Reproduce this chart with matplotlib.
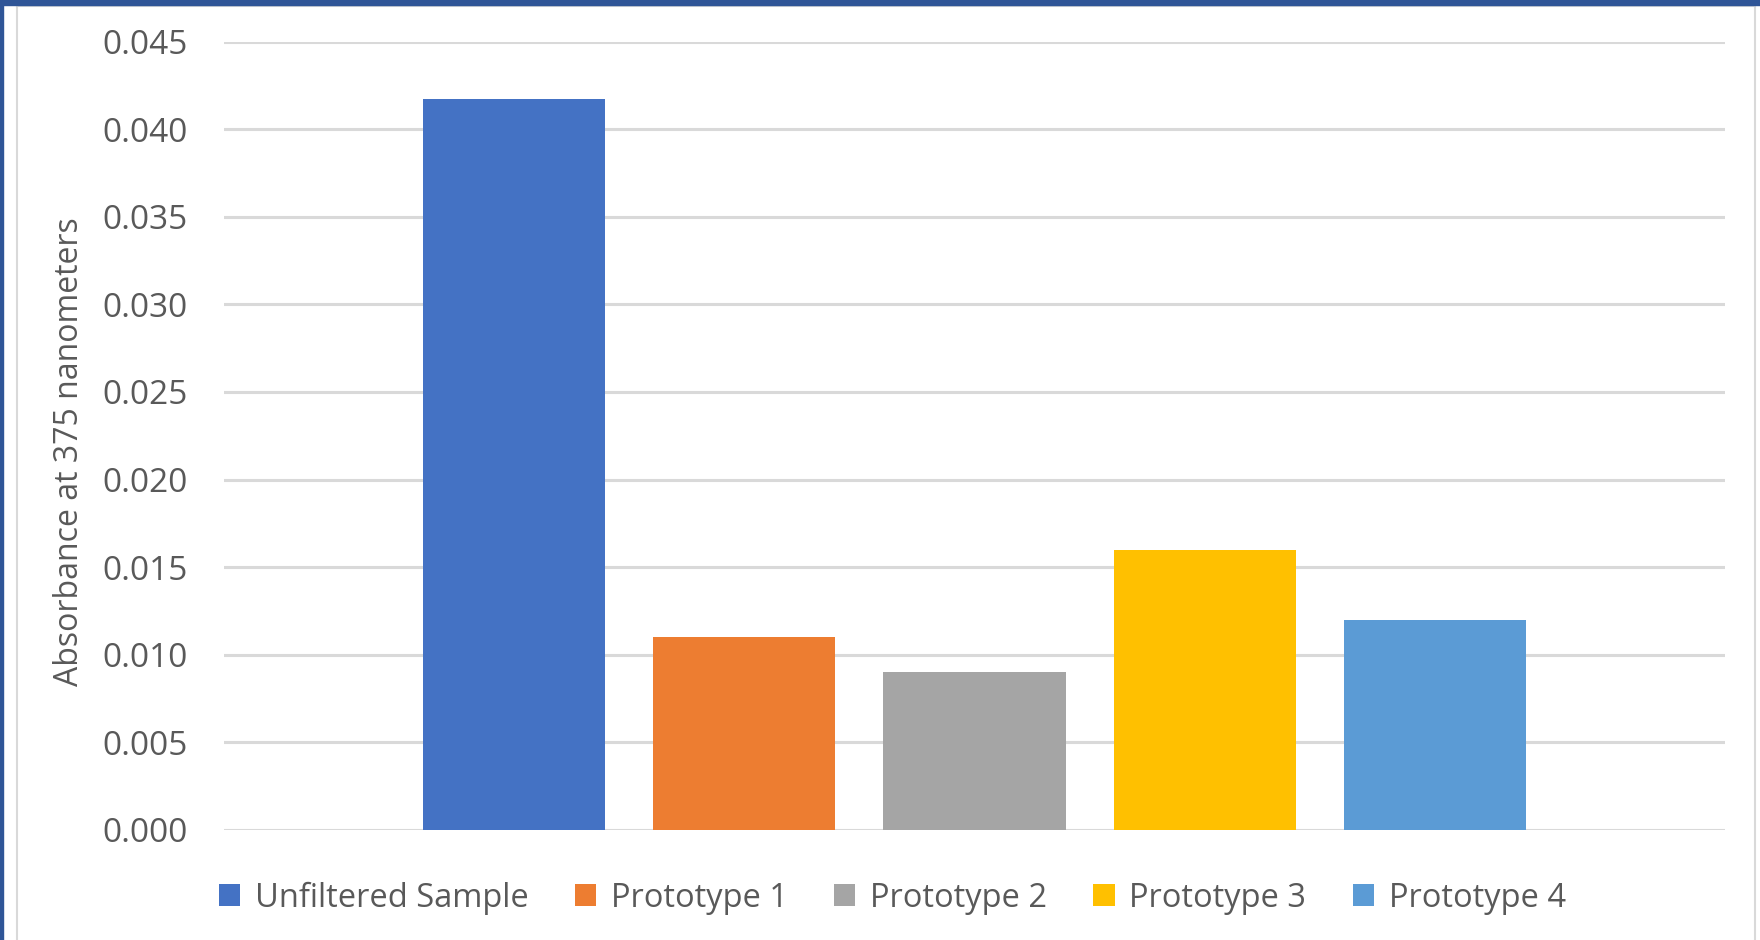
import matplotlib
matplotlib.use("Agg")
from matplotlib import pyplot as plt
from matplotlib.patches import Rectangle

series = ["Unfiltered Sample", "Prototype 1", "Prototype 2", "Prototype 3", "Prototype 4"]
valores = [0.0417, 0.011, 0.009, 0.016, 0.012]
cores = ["#4472C4", "#ED7D31", "#A5A5A5", "#FFC000", "#5B9BD5"]
yticks = [0.000, 0.005, 0.010, 0.015, 0.020, 0.025, 0.030, 0.035, 0.040, 0.045]

plt.rcParams['font.family'] = ['Open Sans', 'DejaVu Sans']
cinza_texto = "#595959"

W, H = 1760, 940
fig = plt.figure(figsize=(W / 100, H / 100), dpi=100)

# area do grafico em pixels
x0, x1 = 224, 1725
y0, y1 = 830, 41.5
ax = fig.add_axes([x0 / W, 1 - y0 / H, (x1 - x0) / W, (y0 - y1) / H])

posicoes = list(range(len(series)))
largura = 0.79
for i, (nome, v, c) in enumerate(zip(series, valores, cores)):
    ax.bar(posicoes[i], v, width=largura, color=c, label=nome, zorder=3)

ax.set_xlim(-1.257, len(series) - 1 + 1.257)
ax.set_ylim(0, 0.045)
ax.set_yticks(yticks)
ax.set_yticklabels([f"{t:.3f}" for t in yticks], fontsize=24, color=cinza_texto)
ax.tick_params(axis='y', length=0, pad=26)
ax.set_xticks([])
ax.grid(axis='y', color="#D9D9D9", linewidth=2.2, zorder=0)
for s in ax.spines.values():
    s.set_visible(False)

ax.set_ylabel("Absorbance at 375 nanometers", fontsize=23, color=cinza_texto)
ax.yaxis.set_label_coords((86 - x0) / (x1 - x0), (y0 - 452) / (y0 - y1))

leg = fig.legend(loc='center', bbox_to_anchor=(0.507, 1 - 898 / H), ncol=5, frameon=False,
                 fontsize=23.5, handlelength=0.65, handleheight=0.65, handletextpad=0.45,
                 columnspacing=1.42, labelcolor=cinza_texto)

# moldura
fig.patches.append(Rectangle((0, 1 - 5 / H), 1, 5 / H, transform=fig.transFigure,
                             color="#2F5597", zorder=10))
fig.patches.append(Rectangle((0, 0), 3 / W, 1, transform=fig.transFigure,
                             color="#2F5597", zorder=10))
fig.lines.append(plt.Line2D([17 / W, 17 / W], [0, 1 - 5 / H], transform=fig.transFigure,
                            color="#D9D9D9", linewidth=1.5))
fig.lines.append(plt.Line2D([1755 / W, 1755 / W], [0, 1 - 5 / H], transform=fig.transFigure,
                            color="#D9D9D9", linewidth=1.5))
fig.lines.append(plt.Line2D([17 / W, 1755 / W], [1 - 6 / H, 1 - 6 / H], transform=fig.transFigure,
                            color="#D9D9D9", linewidth=1.5))

fig.savefig("out.png", dpi=100)
